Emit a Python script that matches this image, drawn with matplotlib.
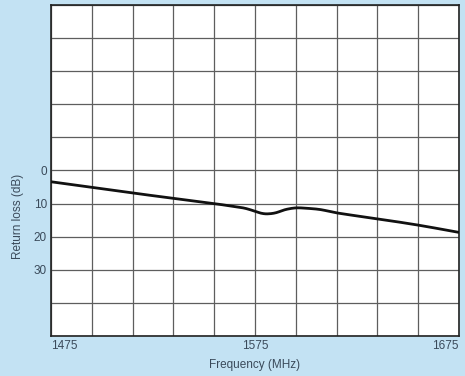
import matplotlib
matplotlib.use("Agg")
import matplotlib.pyplot as plt
import numpy as np

freq_mhz = [1475, 1495, 1515, 1535, 1555, 1565, 1570, 1575, 1578, 1581, 1585, 1590, 1595, 1600, 1607, 1615, 1635, 1655, 1675]
return_loss_db = [3.4, 5.1, 6.8, 8.4, 10.0, 10.9, 11.4, 12.3, 12.9, 13.1, 12.8, 11.8, 11.3, 11.4, 11.8, 12.8, 14.6, 16.5, 18.7]

x_ticks = [1475, 1575, 1675]
x_tick_labels = ["1475", "1575", "1675"]
y_ticks = [0, 10, 20, 30]
y_tick_labels = ["0", "10", "20", "30"]

bg = "#c3e2f3"
text_col = "#3a4a5a"
grid_col = "#5e5e5e"

plt.rcParams['font.family'] = ['Liberation Sans', 'DejaVu Sans']

fig = plt.figure(figsize=(4.65, 3.76), dpi=100, facecolor=bg)
ax = fig.add_axes([51/465, 40/376, 408/465, 331/376])
ax.set_facecolor("white")

xs = np.array(freq_mhz, dtype=float)
ys = np.array(return_loss_db, dtype=float)
xd = np.linspace(xs[0], xs[-1], 600)

def hermite(xs, ys, xd):
    out = np.empty_like(xd)
    n = len(xs)
    m = np.zeros(n)
    for i in range(n):
        if i == 0:
            m[i] = (ys[1]-ys[0])/(xs[1]-xs[0])
        elif i == n-1:
            m[i] = (ys[-1]-ys[-2])/(xs[-1]-xs[-2])
        else:
            m[i] = (ys[i+1]-ys[i-1])/(xs[i+1]-xs[i-1])
    for k, x in enumerate(xd):
        i = min(np.searchsorted(xs, x, side='right')-1, n-2)
        h = xs[i+1]-xs[i]
        t = (x-xs[i])/h
        h00 = 2*t**3-3*t**2+1; h10 = t**3-2*t**2+t
        h01 = -2*t**3+3*t**2; h11 = t**3-t**2
        out[k] = h00*ys[i]+h10*h*m[i]+h01*ys[i+1]+h11*h*m[i+1]
    return out

yd = hermite(xs, ys, xd)
ax.plot(xd, yd, color="#111111", lw=2.0, solid_capstyle='butt', zorder=3)

ax.set_xlim(1475, 1675)
ax.set_ylim(50, -50)
ax.set_xticks(np.arange(1475, 1676, 20), minor=True)
ax.set_yticks(np.arange(-50, 51, 10), minor=True)
ax.set_xticks(x_ticks)
ax.set_xticklabels(x_tick_labels)
ax.set_yticks(y_ticks)
ax.set_yticklabels(y_tick_labels)
ax.grid(True, which='both', color=grid_col, lw=0.9)
ax.tick_params(which='both', length=0)
ax.tick_params(axis='y', pad=3, labelsize=8.5, labelcolor=text_col)
ax.tick_params(axis='x', pad=3, labelsize=8.5, labelcolor=text_col)
labs = ax.get_xticklabels()
labs[0].set_ha('left'); labs[2].set_ha('right')
for s in ax.spines.values():
    s.set_color("#222222"); s.set_linewidth(1.2)

ax.set_xlabel("Frequency (MHz)", fontsize=8.5, color=text_col, labelpad=5)
ax.set_ylabel("Return loss (dB)", fontsize=8.5, color=text_col)
ax.yaxis.set_label_coords(-0.066, 0.36)

fig.savefig("out.png", dpi=100, facecolor=bg)
